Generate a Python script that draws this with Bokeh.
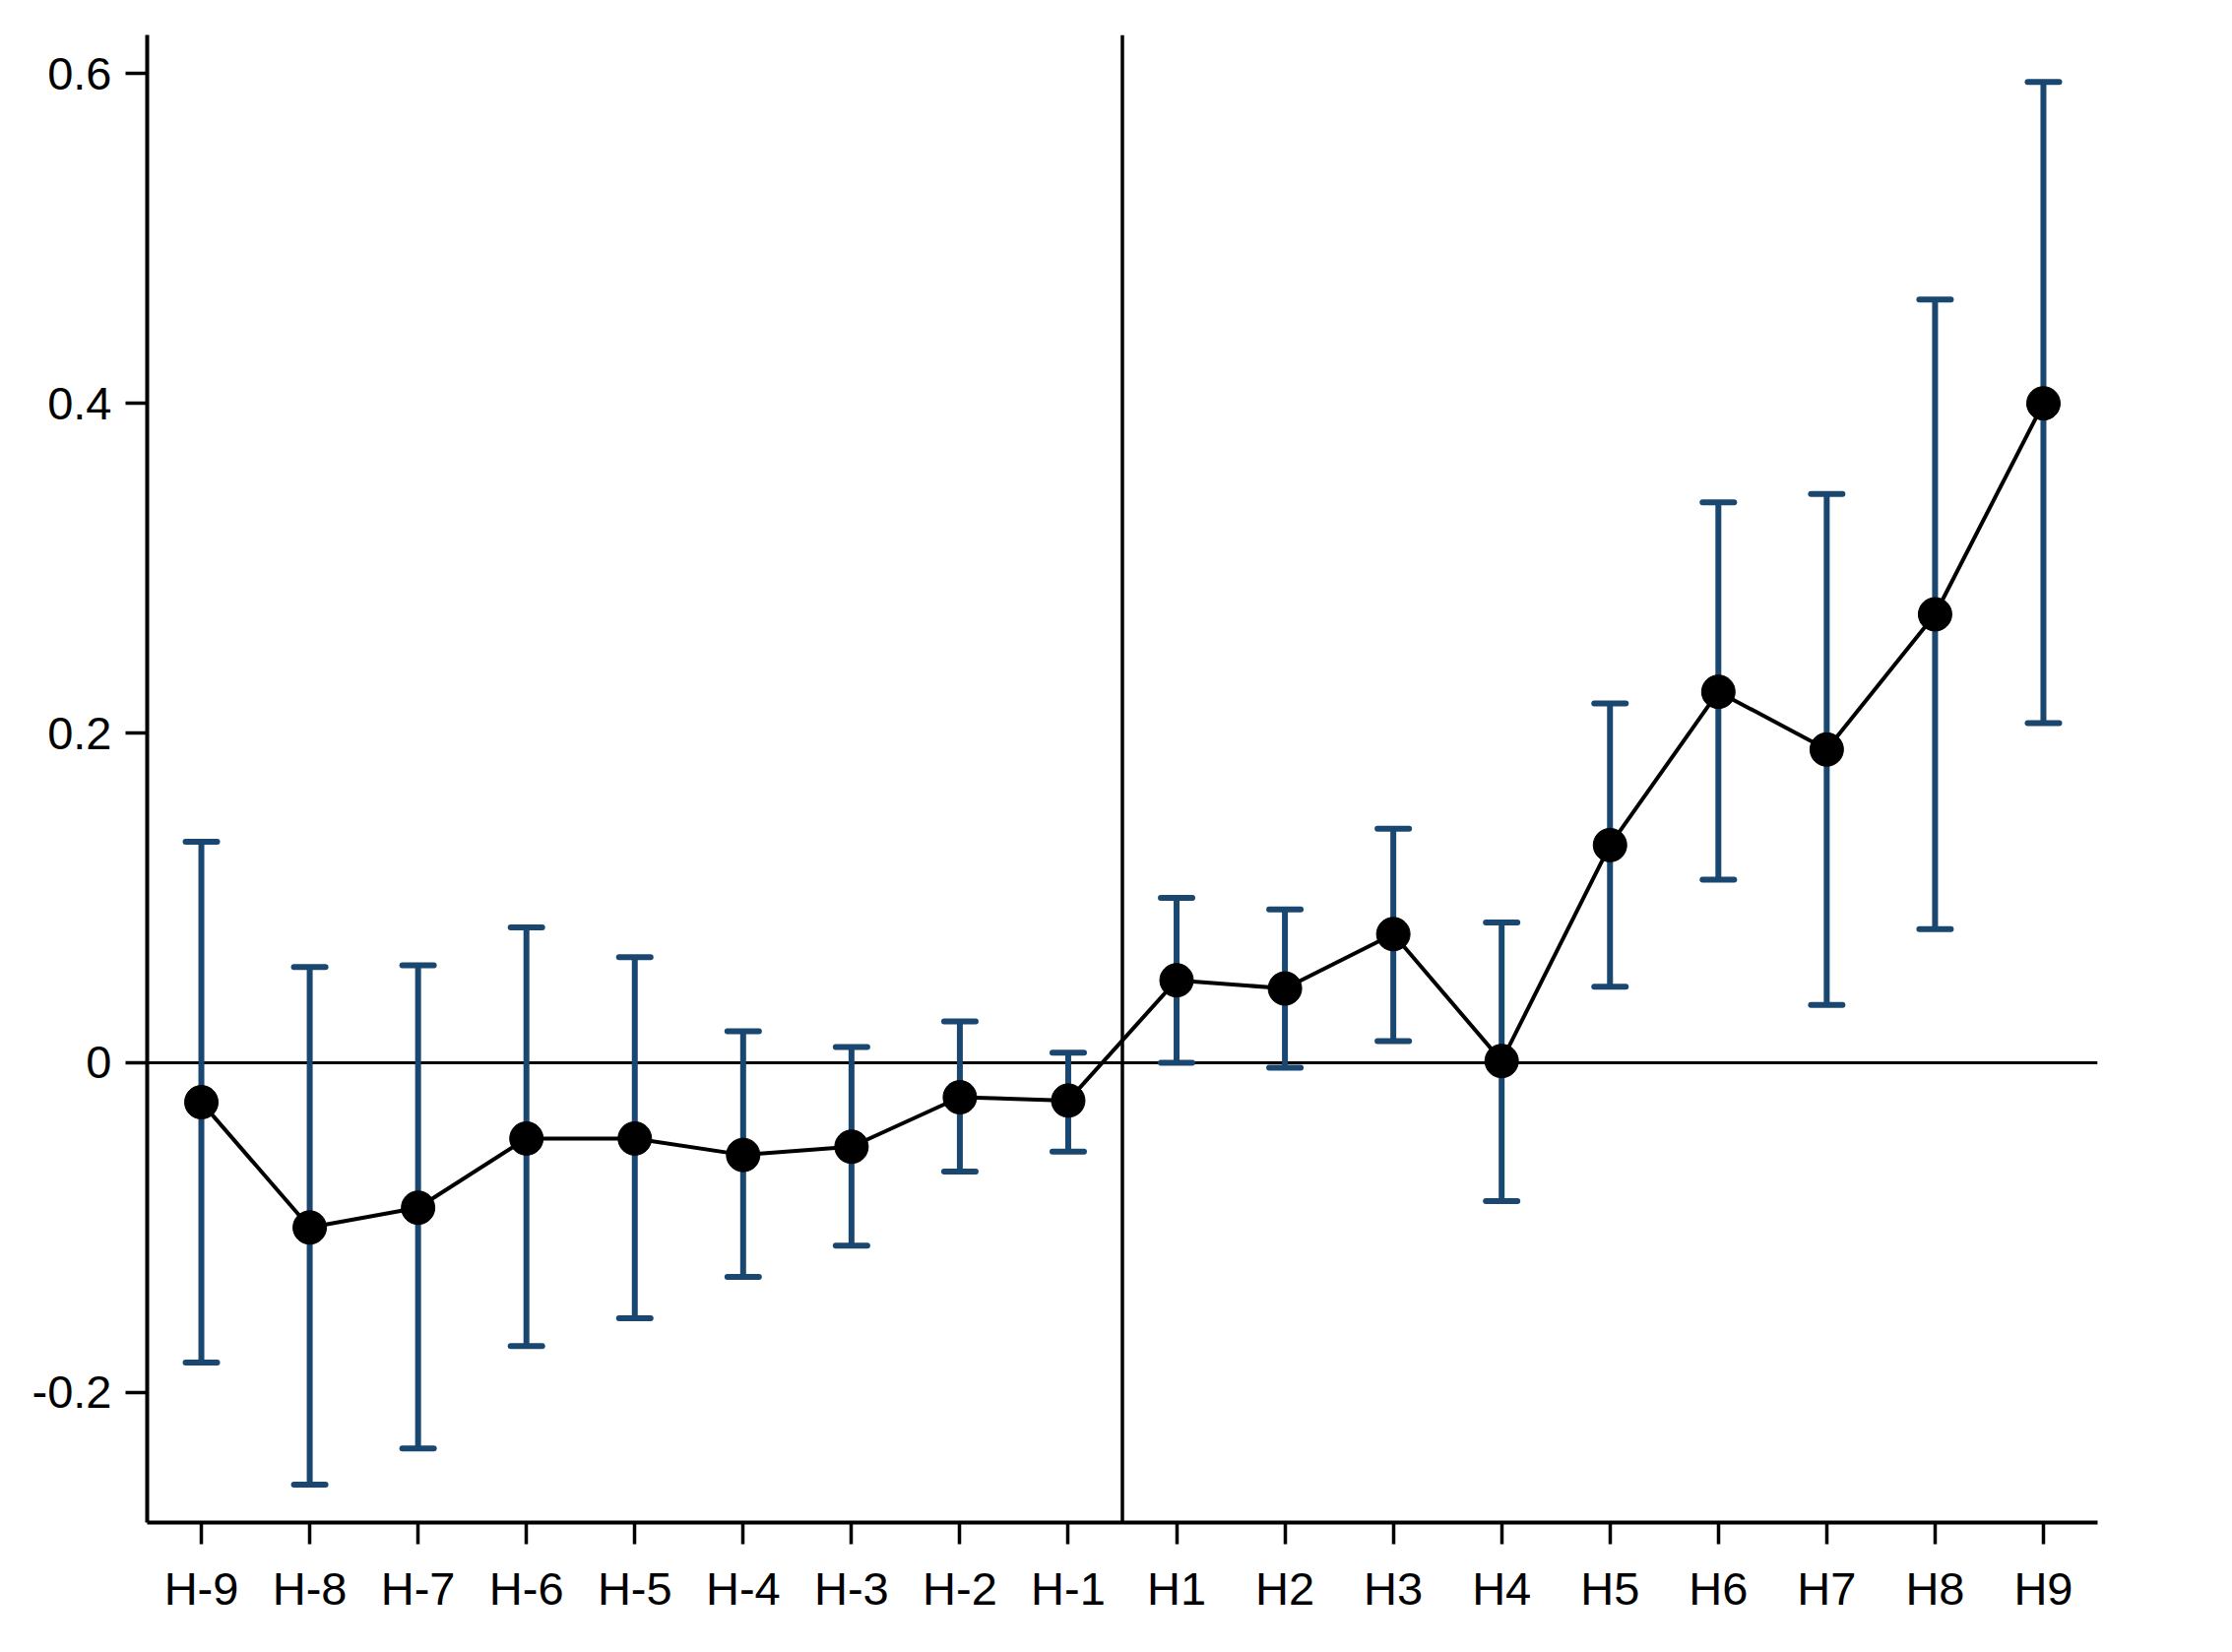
from bokeh.plotting import figure
from bokeh.models import ColumnDataSource, Whisker, TeeHead, Span, FixedTicker, CustomJSTickFormatter, Range1d, FactorRange
from bokeh.embed import file_html
from bokeh.resources import INLINE

labels = ["H-9", "H-8", "H-7", "H-6", "H-5", "H-4", "H-3", "H-2", "H-1",
          "H1", "H2", "H3", "H4", "H5", "H6", "H7", "H8", "H9"]
coef = [-0.024, -0.100, -0.088, -0.046, -0.046, -0.056, -0.051, -0.021, -0.023,
        0.050, 0.045, 0.078, 0.001, 0.132, 0.225, 0.190, 0.272, 0.400]
upper = [0.134, 0.058, 0.059, 0.082, 0.064, 0.019, 0.0095, 0.025, 0.006,
         0.100, 0.093, 0.142, 0.085, 0.218, 0.340, 0.345, 0.463, 0.595]
lower = [-0.182, -0.256, -0.234, -0.172, -0.155, -0.130, -0.111, -0.066, -0.054,
         0.000, -0.003, 0.013, -0.084, 0.046, 0.111, 0.035, 0.081, 0.206]
y_ticks = [-0.2, 0, 0.2, 0.4, 0.6]
event_split = 9  # boundary between H-1 and H1 (in factor units)

NAVY = "#1a476f"
FONT = "Liberation Sans"

src = ColumnDataSource(dict(x=labels, y=coef, upper=upper, lower=lower))

p = figure(width=2258, height=1670, output_backend="svg", toolbar_location=None,
           x_range=FactorRange(*labels), y_range=Range1d(-0.279, 0.6235),
           min_border_left=149, min_border_right=128, min_border_top=35, min_border_bottom=124)
p.outline_line_color = None
p.xgrid.visible = False
p.ygrid.visible = False
p.background_fill_color = "white"
p.border_fill_color = "white"

p.add_layout(Span(location=0, dimension="width", line_color="black", line_width=3, level="underlay"))
p.add_layout(Span(location=event_split, dimension="height", line_color="black", line_width=3.5, level="underlay"))

w = Whisker(base="x", upper="upper", lower="lower", source=src,
            line_color=NAVY, line_width=6,
            upper_head=TeeHead(size=32, line_color=NAVY, line_width=6, line_cap="round"),
            lower_head=TeeHead(size=32, line_color=NAVY, line_width=6, line_cap="round"))
p.add_layout(w)

p.line("x", "y", source=src, line_color="black", line_width=4)
p.scatter("x", "y", source=src, size=34, fill_color="black", line_color="black")

for ax in (p.xaxis, p.yaxis):
    ax.axis_line_width = 4
    ax.axis_line_color = "black"
    ax.major_tick_line_width = 3.5
    ax.major_tick_line_color = "black"
    ax.major_tick_out = 22
    ax.major_tick_in = 0
    ax.minor_tick_line_color = None
    ax.major_label_text_font = FONT
    ax.major_label_text_font_size = "47px"
    ax.major_label_text_color = "black"

p.yaxis.ticker = FixedTicker(ticks=y_ticks)
p.yaxis.formatter = CustomJSTickFormatter(code="return String(Math.round(tick*10)/10);")
p.yaxis.major_label_standoff = 14
p.xaxis.major_label_standoff = 18

open("out.html", "w").write(file_html(p, INLINE))
